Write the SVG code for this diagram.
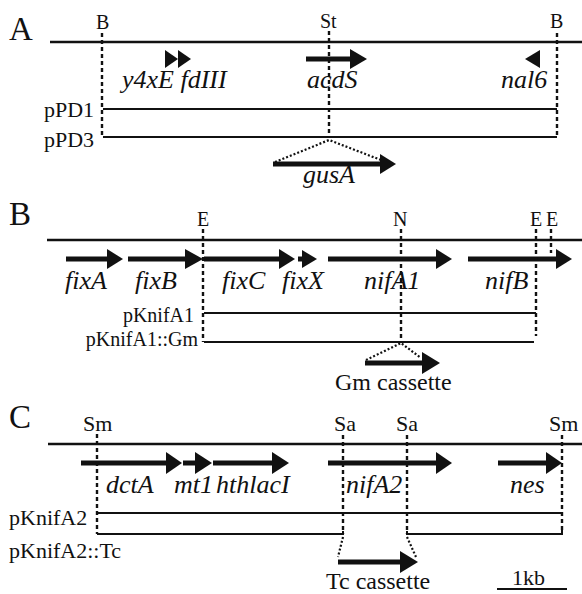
<svg xmlns="http://www.w3.org/2000/svg" width="582" height="594" viewBox="0 0 582 594" font-family="Liberation Serif, DejaVu Serif, serif">
<style>
text{font-family:'Liberation Serif','DejaVu Serif',serif;fill:#111}
.pl{font-size:33px}
.site{font-size:20px}
.sitec{font-size:22px}
.gene{font-size:26px;font-style:italic}
.lab{font-size:22px}
.labb{font-size:20px}
.cas{font-size:24px}
.main{stroke:#111;stroke-width:2.6;fill:none}
.frag{stroke:#111;stroke-width:2;fill:none}
.dash{stroke:#111;stroke-width:2.4;stroke-dasharray:4,3;fill:none}
.dot{stroke:#111;stroke-width:2.2;stroke-dasharray:2,2;fill:none}
.sh{stroke:#111;stroke-width:5;fill:none}
.hd{fill:#111}
</style>
<rect width="582" height="594" fill="#fff"/>

<g id="panelA">
<text class="pl" x="9" y="40">A</text>
<text class="site" x="96" y="29">B</text>
<text class="site" x="320" y="28">St</text>
<text class="site" x="550" y="28">B</text>
<line class="main" x1="50" y1="42" x2="582" y2="42"/>
<g id="y4xE"><polygon class="hd" points="165,50 178,59 165,68"/><polygon class="hd" points="178,50 191,59 178,68"/></g>
<text class="gene" x="122" y="88">y4xE fdIII</text>
<g id="acdS"><line class="sh" x1="306" y1="59" x2="352" y2="59"/><polygon class="hd" points="350,49 367,59 350,69"/></g>
<text class="gene" x="307" y="88">acdS</text>
<g id="nal6"><polygon class="hd" points="540,50 525,59 540,68"/></g>
<text class="gene" x="501" y="88">nal6</text>
<text class="lab" x="44" y="117">pPD1</text>
<text class="lab" x="44" y="147">pPD3</text>
<line class="frag" x1="103" y1="109" x2="557" y2="109"/>
<line class="frag" x1="103" y1="137" x2="557" y2="137"/>
<g id="gusA"><line class="sh" x1="273" y1="164" x2="382" y2="164"/><polygon class="hd" points="380,154 396,164 380,174"/></g>
<text class="gene" x="303" y="183">gusA</text>
</g>

<g id="panelB">
<text class="pl" x="9" y="225">B</text>
<text class="site" x="197" y="226">E</text>
<text class="site" x="393" y="226">N</text>
<text class="site" x="530" y="226">E</text>
<text class="site" x="546" y="226">E</text>
<line class="main" x1="47" y1="240" x2="582" y2="240"/>
<g id="fixA"><line class="sh" x1="66" y1="259" x2="109" y2="259"/><polygon class="hd" points="107,249 123,259 107,269"/></g>
<g id="fixB"><line class="sh" x1="128" y1="259" x2="187" y2="259"/><polygon class="hd" points="185,249 203,259 185,269"/></g>
<g id="fixC"><line class="sh" x1="204" y1="259" x2="281" y2="259"/><polygon class="hd" points="279,249 295,259 279,269"/></g>
<g id="fixX"><line class="sh" x1="298" y1="259" x2="304" y2="259"/><polygon class="hd" points="302,250 317,259 302,268"/></g>
<g id="nifA1"><line class="sh" x1="328" y1="259" x2="438" y2="259"/><polygon class="hd" points="436,249 452,259 436,269"/></g>
<g id="nifB"><line class="sh" x1="468" y1="259" x2="558" y2="259"/><polygon class="hd" points="556,249 572,259 556,269"/></g>
<text class="gene" x="65" y="289">fixA</text>
<text class="gene" x="135" y="289">fixB</text>
<text class="gene" x="222" y="289">fixC</text>
<text class="gene" x="282" y="289">fixX</text>
<text class="gene" x="364" y="289">nifA1</text>
<text class="gene" x="485" y="289">nifB</text>
<text class="labb" x="194" y="322" text-anchor="end">pKnifA1</text>
<text class="labb" x="198" y="346" text-anchor="end">pKnifA1::Gm</text>
<line class="frag" x1="204" y1="313" x2="536" y2="313"/>
<line class="frag" x1="204" y1="342" x2="534" y2="342"/>
<g id="gm"><line class="sh" x1="365" y1="363" x2="425" y2="363"/><polygon class="hd" points="422,352 440,363 422,374"/></g>
<text class="cas" x="335" y="390">Gm cassette</text>
</g>

<g id="panelC">
<text class="pl" x="9" y="428">C</text>
<text class="sitec" x="83" y="431">Sm</text>
<text class="sitec" x="334" y="431">Sa</text>
<text class="sitec" x="396" y="431">Sa</text>
<text class="sitec" x="549" y="431">Sm</text>
<line class="main" x1="48" y1="444" x2="582" y2="444"/>
<g id="dctA"><line class="sh" x1="81" y1="463" x2="168" y2="463"/><polygon class="hd" points="166,452 182,463 166,474"/></g>
<g id="mt1"><line class="sh" x1="183" y1="463" x2="197" y2="463"/><polygon class="hd" points="195,452 212,463 195,474"/></g>
<g id="hthlacI"><line class="sh" x1="213" y1="463" x2="274" y2="463"/><polygon class="hd" points="272,452 289,463 272,474"/></g>
<g id="nifA2"><line class="sh" x1="328" y1="463" x2="438" y2="463"/><polygon class="hd" points="436,452 452,463 436,474"/></g>
<g id="nes"><line class="sh" x1="498" y1="463" x2="548" y2="463"/><polygon class="hd" points="546,452 562,463 546,474"/></g>
<text class="gene" x="106" y="493">dctA</text>
<text class="gene" x="174" y="493">mt1</text>
<text class="gene" x="216" y="493">hthlacI</text>
<text class="gene" x="346" y="493">nifA2</text>
<text class="gene" x="510" y="493">nes</text>
<text class="lab" x="9" y="525">pKnifA2</text>
<text class="lab" x="9" y="558">pKnifA2::Tc</text>
<line class="frag" x1="97" y1="513" x2="562" y2="513"/>
<polyline class="frag" points="97,534 343,534 343,531"/>
<polyline class="frag" points="407,531 407,534 562,534 562,530"/>
<g id="tc"><line class="sh" x1="338" y1="562" x2="403" y2="562"/><polygon class="hd" points="400,551 418,562 400,573"/></g>
<text class="cas" x="326" y="589">Tc cassette</text>
<text class="lab" x="512" y="585">1kb</text>
<line class="frag" x1="497" y1="589" x2="567" y2="589"/>
</g>

<g id="connectors">
<line class="dash" x1="102" y1="33" x2="102" y2="137"/>
<line class="dash" x1="329" y1="31" x2="329" y2="137"/>
<line class="dash" x1="557" y1="33" x2="557" y2="137"/>
<polyline class="dot" points="275,162 329,140 381,160"/>
<line class="dash" x1="203" y1="229" x2="203" y2="342"/>
<line class="dash" x1="401" y1="229" x2="401" y2="341"/>
<line class="dash" x1="536" y1="229" x2="536" y2="336"/>
<line class="dash" x1="551" y1="229" x2="551" y2="253"/>
<polyline class="dot" points="366,360 401,343 421,358"/>
<line class="dash" x1="97" y1="434" x2="97" y2="534"/>
<line class="dash" x1="343" y1="435" x2="343" y2="534"/>
<line class="dash" x1="407" y1="435" x2="407" y2="534"/>
<line class="dash" x1="562" y1="435" x2="562" y2="532"/>
<line class="dot" x1="343" y1="537" x2="338" y2="557"/>
<line class="dot" x1="407" y1="537" x2="416" y2="557"/>
</g>
</svg>
